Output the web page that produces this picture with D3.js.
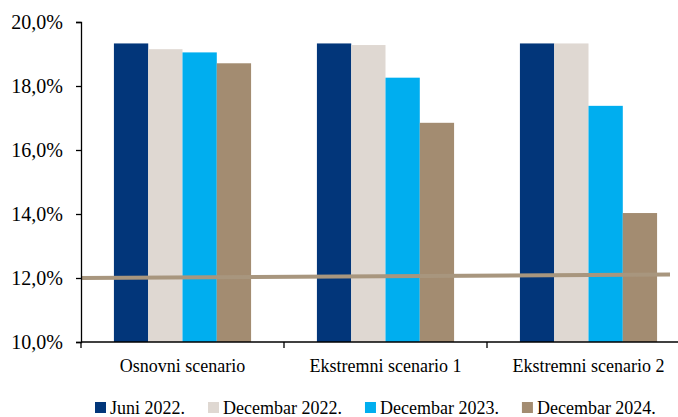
<!DOCTYPE html>
<html><head><meta charset="utf-8">
<script src="https://cdn.jsdelivr.net/npm/d3@7"></script>
<style>body{margin:0;background:#fff}svg{display:block}text{font-family:"Liberation Serif","Times New Roman",serif;fill:#000}</style>
</head><body><svg id="c" width="678" height="417"></svg>
<script>
const categories = ["Osnovni scenario", "Ekstremni scenario 1", "Ekstremni scenario 2"];
const seriesNames = ["Juni 2022.", "Decembar 2022.", "Decembar 2023.", "Decembar 2024."];
const seriesColors = ["#02367A", "#DFD8D2", "#00AEEF", "#A38C71"];
const juni2022 = [19.33, 19.33, 19.33];
const dec2022 = [19.15, 19.28, 19.33];
const dec2023 = [19.05, 18.26, 17.38];
const dec2024 = [18.71, 16.85, 14.03];
const seriesValues = [juni2022, dec2022, dec2023, dec2024];
const linePos = [0, 1];
const lineValues = [12.0, 12.11];
const yTicks = [10, 12, 14, 16, 18, 20];

(function () {
const svg = d3.select("#c");
const mLeft = 81, mTop = 22, mBottom = 342, band = 203;
const y = d3.scaleLinear().domain([10, 20]).range([mBottom, mTop]);
const x = d3.scaleBand().domain(categories).range([mLeft, mLeft + band * 3]).padding(0);
const xs = d3.scaleBand().domain(seriesNames).range([0, x.bandwidth()]).paddingInner(0).paddingOuter(0.96);
const xl = d3.scaleLinear().domain([0, 1]).range([mLeft, 670]);

// bars
seriesNames.forEach((s, si) => {
  svg.append("g").selectAll("rect").data(seriesValues[si]).join("rect")
    .attr("x", (d, i) => x(categories[i]) + xs(s))
    .attr("width", xs.bandwidth())
    .attr("y", d => y(d))
    .attr("height", d => y(10) - y(d))
    .attr("fill", seriesColors[si]);
});

// line
svg.append("path").datum(lineValues)
  .attr("d", d3.line().x((d, i) => xl(linePos[i])).y(d => y(d)))
  .attr("fill", "none").attr("stroke", "#A8967E").attr("stroke-width", 4);

// y axis
const ya = svg.append("g").attr("transform", `translate(${mLeft},0)`)
  .call(d3.axisLeft(y).tickValues(yTicks).tickSize(5).tickPadding(13)
    .tickFormat(d => d.toFixed(1).replace(".", ",") + "%"));
ya.select(".domain").attr("stroke", "#000").attr("stroke-width", 1.3);
ya.selectAll(".tick line").attr("stroke", "#000").attr("stroke-width", 1.3);
ya.selectAll("text").style("font-size", "20px").attr("font-family", null).attr("fill", "#000");

// x axis
svg.append("line").attr("x1", mLeft).attr("x2", 678).attr("y1", mBottom).attr("y2", mBottom)
  .attr("stroke", "#000").attr("stroke-width", 1.3);
svg.append("g").selectAll("line").data(categories).join("line")
  .attr("x1", d => x(d)).attr("x2", d => x(d)).attr("y1", mBottom).attr("y2", mBottom + 6)
  .attr("stroke", "#000").attr("stroke-width", 1.3);
svg.append("g").selectAll("text").data(categories).join("text")
  .attr("x", d => x(d) + x.bandwidth() / 2).attr("y", 372)
  .attr("text-anchor", "middle").style("font-size", "18px").text(d => d);

// legend
const lg = svg.append("g");
let lx = 95;
seriesNames.forEach((s, i) => {
  lg.append("rect").attr("x", lx).attr("y", 402).attr("width", 11).attr("height", 11).attr("fill", seriesColors[i]);
  const t = lg.append("text").attr("x", lx + 15).attr("y", 414).style("font-size", "18px").text(s);
  lx += 15 + t.node().getComputedTextLength() + 23;
});
})();
</script></body></html>
